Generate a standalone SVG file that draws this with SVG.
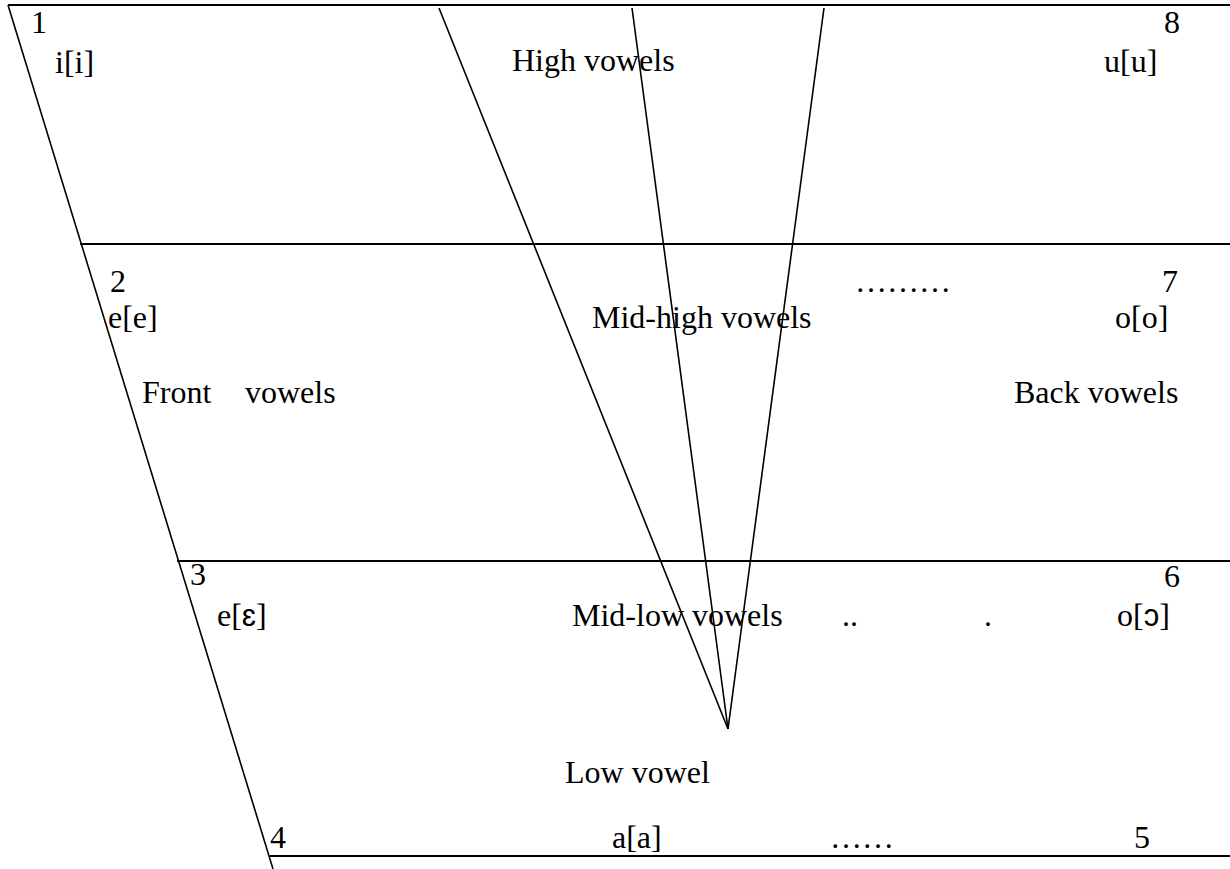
<svg xmlns="http://www.w3.org/2000/svg" width="1230" height="869" viewBox="0 0 1230 869">
<style>
text{font-family:"Liberation Serif","Times New Roman",serif;font-size:32px;fill:#000}
.h{stroke:#000;stroke-width:2;fill:none}
.s{stroke:#000;stroke-width:1.6;fill:none}
.ipa{font-family:"Liberation Sans","DejaVu Sans",sans-serif;font-size:31px}
</style>
<rect width="1230" height="869" fill="#fff"/>
<g id="connectors">
<line class="h" x1="8" y1="5" x2="1230" y2="5"/>
<line class="s" x1="8" y1="5" x2="273" y2="869"/>
<line class="h" x1="80" y1="244" x2="1230" y2="244"/>
<line class="h" x1="177" y1="561" x2="1230" y2="561"/>
<line class="h" x1="270" y1="856" x2="1230" y2="856"/>
<line class="s" x1="439" y1="8" x2="728" y2="729"/>
<line class="s" x1="632" y1="8" x2="728" y2="729"/>
<line class="s" x1="824" y1="8" x2="728" y2="729"/>
</g>
<g id="high">
<text x="31" y="33">1</text>
<text x="55" y="73">i[i]</text>
<text x="512" y="71">High vowels</text>
<text x="1164" y="33">8</text>
<text x="1104" y="72">u[u]</text>
</g>
<g id="midhigh">
<text x="110" y="292">2</text>
<text x="108" y="328">e[e]</text>
<text x="592" y="328">Mid-high vowels</text>
<text x="855" y="292">………</text>
<text x="1162" y="292">7</text>
<text x="1115" y="328">o[o]</text>
</g>
<g id="front">
<text x="142" y="403">Front</text>
<text x="245" y="403">vowels</text>
</g>
<g id="back">
<text x="1014" y="403">Back vowels</text>
</g>
<g id="midlow">
<text x="190" y="585">3</text>
<text x="217" y="626">e[<tspan class="ipa">ɛ</tspan>]</text>
<text x="572" y="626">Mid-low vowels</text>
<text x="842" y="626">..</text>
<text x="984" y="626">.</text>
<text x="1164" y="587">6</text>
<text x="1117" y="626">o[<tspan class="ipa">ɔ</tspan>]</text>
</g>
<g id="low">
<text x="565" y="783">Low vowel</text>
</g>
<g id="bottom">
<text x="270" y="848">4</text>
<text x="612" y="848">a[a]</text>
<text x="830" y="848">……</text>
<text x="1134" y="848">5</text>
</g>
</svg>
